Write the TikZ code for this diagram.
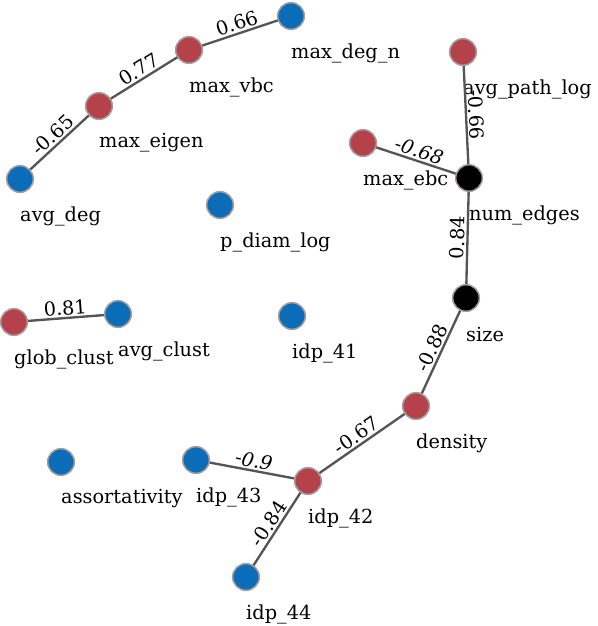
\documentclass[tikz,border=0pt]{standalone}
\usepackage{fontspec}
\setmainfont{DejaVu Serif}
\definecolor{corrred}{HTML}{B5414A}
\definecolor{corrblue}{HTML}{0B6CB8}
\definecolor{rimgray}{HTML}{A69E9E}
\definecolor{edgegray}{HTML}{555555}
\begin{document}
\begin{tikzpicture}[x=0.03cm, y=-0.03cm,
    vtx/.style={circle, draw=rimgray, line width=1.3pt, minimum size=0.8cm, inner sep=0pt},
    lbl/.style={anchor=west, inner sep=0pt, font=\fontsize{16.5}{18}\selectfont},
    edge/.style={draw=edgegray, line width=2pt},
    elbl/.style={above, sloped, inner sep=1.5pt, font=\fontsize{16.5}{18}\selectfont}]
    \useasboundingbox (0,0) rectangle (598,626);

    % 1. Vertex positions with their names
    \foreach \n/\x/\y/\t in {
        maxdegn/291/16/max\_deg\_n,
        maxvbc/189/50/max\_vbc,
        maxeigen/99/106/max\_eigen,
        avgdeg/20/179/avg\_deg,
        pdiam/220/205/p\_diam\_log,
        avgpath/463/52/avg\_path\_log,
        maxebc/363/143/max\_ebc,
        numedges/469/178/num\_edges,
        size/466/298/size,
        globclust/14/322/glob\_clust,
        avgclust/118/314/avg\_clust,
        idpfo/292/316/idp\_41,
        density/416/406/density,
        assort/61/462/assortativity,
        idpft/196/460/idp\_43,
        idpftw/308/481/idp\_42,
        idpff/246/577/idp\_44}
    {
        \coordinate (\n) at (\x,\y);
        \node[lbl] (\n-name) at (\x,\y+37) {\t};
    }

    % 2. Correlation edges
    \draw[edge] (maxvbc) -- node[elbl] {0.66} (maxdegn);
    \draw[edge] (maxeigen) -- node[elbl] {0.77} (maxvbc);
    \draw[edge] (avgdeg) -- node[elbl] {-0.65} (maxeigen);
    \draw[edge] (avgpath) -- node[elbl] {-0.66} (numedges);
    \draw[edge] (maxebc) -- node[elbl, font=\fontsize{16.5}{18}\selectfont\itshape] {-0.68} (numedges);
    \draw[edge] (size) -- node[elbl] {0.84} (numedges);
    \draw[edge] (globclust) -- node[elbl] {0.81} (avgclust);
    \draw[edge] (density) -- node[elbl] {-0.88} (size);
    \draw[edge] (idpftw) -- node[elbl] {-0.67} (density);
    \draw[edge] (idpft) -- node[elbl, font=\fontsize{16.5}{18}\selectfont\itshape] {-0.9} (idpftw);
    \draw[edge] (idpff) -- node[elbl] {-0.84} (idpftw);

    % 3. Dots on top of the edges
    \foreach \n/\c in {maxdegn/corrblue, maxvbc/corrred, maxeigen/corrred,
        avgdeg/corrblue, pdiam/corrblue, avgpath/corrred, maxebc/corrred,
        numedges/black, size/black, globclust/corrred, avgclust/corrblue,
        idpfo/corrblue, density/corrred, assort/corrblue, idpft/corrblue,
        idpftw/corrred, idpff/corrblue}
        \node[vtx, fill=\c] (\n-dot) at (\n) {};
\end{tikzpicture}
\end{document}
